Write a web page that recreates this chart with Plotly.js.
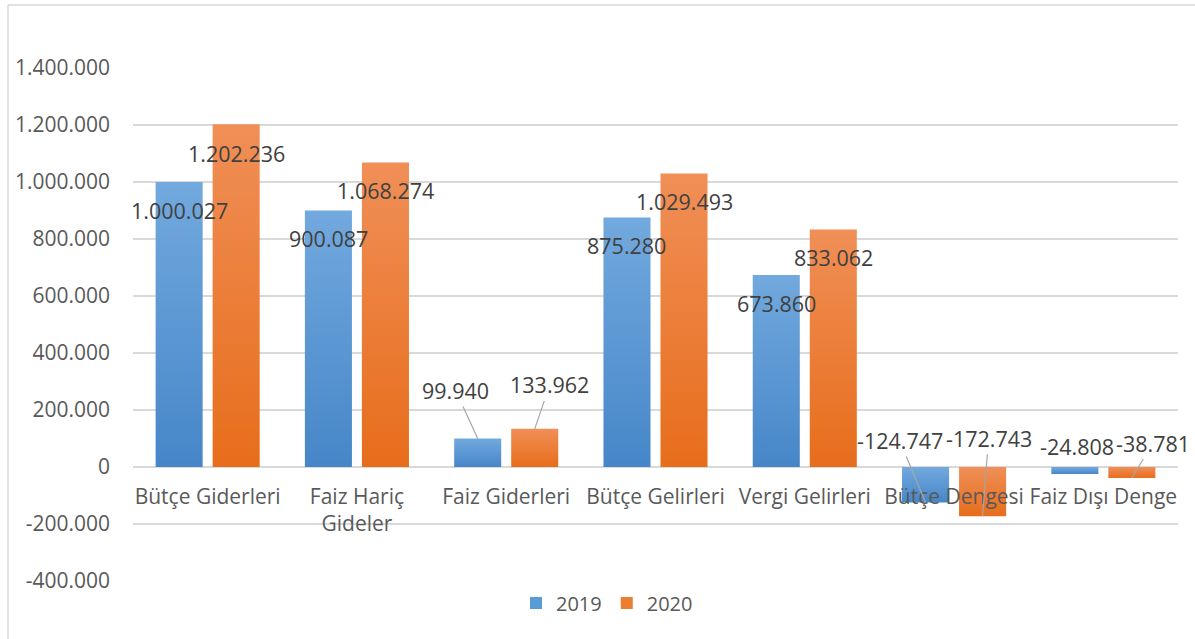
<!DOCTYPE html>
<html>
<head>
<meta charset="utf-8">
<script src="https://cdn.plot.ly/plotly-3.0.1.min.js"></script>
<style>
  html, body { margin: 0; padding: 0; background: #ffffff; }
  #chart { width: 1195px; height: 639px; }
</style>
</head>
<body>
<div id="chart"></div>
<script>
// ---------- data ----------
const categories = ['Bütçe Giderleri', 'Faiz Hariç Gideler', 'Faiz Giderleri', 'Bütçe Gelirleri', 'Vergi Gelirleri', 'Bütçe Dengesi', 'Faiz Dışı Denge'];
const categoryLabels = ['Bütçe Giderleri', 'Faiz Hariç<br>Gideler', 'Faiz Giderleri', 'Bütçe Gelirleri', 'Vergi Gelirleri', 'Bütçe Dengesi', 'Faiz Dışı Denge'];
const seriesNames = ['2019', '2020'];
const values2019 = [1000027, 900087, 99940, 875280, 673860, -124747, -24808];
const values2020 = [1202236, 1068274, 133962, 1029493, 833062, -172743, -38781];
const yTickVals = [-400000, -200000, 0, 200000, 400000, 600000, 800000, 1000000, 1200000, 1400000];

// ---------- styling ----------
const W = 1195, H = 639;
const M = { l: 133, r: 17, t: 68, b: 58 };
const plotW = W - M.l - M.r, plotH = H - M.t - M.b;
const yRange = [-400000, 1400000];
const BARGAP = 0.236, BARGROUPGAP = 0.175;
const FONT = '"Open Sans", "Noto Sans", sans-serif';
const colors = ['#5b9bd5', '#ed7d31'];
const gradients = [['#72a9de', '#4686c8'], ['#f08f57', '#e76d1b']];

// label placement per series / category (pixel offsets, styling only)
const labelPlacement = [
  [{ in: -29 }, { in: -28 }, { ax: -22, ay: -48 }, { in: -28 }, { in: -29 }, { ax: -26, ay: -62 }, { shift: 28, xs: 2 }],
  [{ in: -29 }, { in: -28 }, { ax: 15, ay: -44 }, { in: -28 }, { in: -28 }, { ax: 6, ay: -78 }, { ax: 21, ay: -35 }]
];

function fmt(v) {
  const s = Math.abs(Math.round(v)).toString().replace(/\B(?=(\d{3})+(?!\d))/g, '.');
  return (v < 0 ? '-' : '') + s;
}
const px2paperX = px => (px - M.l) / plotW;
const px2paperY = py => (H - M.b - py) / plotH;

const seriesValues = [values2019, values2020];
const traces = seriesValues.map((vals, i) => ({
  type: 'bar',
  name: seriesNames[i],
  x: categories,
  y: vals,
  marker: { color: colors[i] },
  hoverinfo: 'x+y+name'
}));

// data labels as annotations anchored to bar values
const slot = (1 - BARGAP) / 2;
const annotations = [];
seriesValues.forEach((vals, s) => {
  const off = (s - 0.5) * slot;
  vals.forEach((v, k) => {
    const p = labelPlacement[s][k];
    const a = {
      xref: 'x', yref: 'y', x: k + off, y: v,
      text: fmt(v),
      font: { family: FONT, size: 21.5, color: '#404040' }
    };
    if (p.in !== undefined) {
      Object.assign(a, { showarrow: false, yanchor: 'middle', xanchor: 'center', yshift: p.in });
    } else if (p.shift !== undefined) {
      Object.assign(a, { showarrow: false, yanchor: 'middle', xanchor: 'center', yshift: p.shift, xshift: p.xs || 0 });
    } else {
      Object.assign(a, { showarrow: true, ax: p.ax, ay: p.ay, arrowhead: 0, arrowwidth: 1.2, arrowcolor: '#a6a6a6', standoff: 0, startstandoff: 0 });
    }
    annotations.push(a);
  });
});

const frameColor = '#d9d9d9';
const shapes = [
  { type: 'line', xref: 'paper', yref: 'paper', x0: px2paperX(8), x1: px2paperX(8), y0: px2paperY(5), y1: px2paperY(H + 5), line: { color: frameColor, width: 1.5 } },
  { type: 'line', xref: 'paper', yref: 'paper', x0: px2paperX(8), x1: px2paperX(W + 5), y0: px2paperY(5), y1: px2paperY(5), line: { color: frameColor, width: 1.5 } }
];

const layout = {
  width: W, height: H,
  margin: M,
  paper_bgcolor: '#ffffff',
  plot_bgcolor: '#ffffff',
  font: { family: FONT, color: '#595959' },
  barmode: 'group',
  bargap: BARGAP,
  bargroupgap: BARGROUPGAP,
  showlegend: true,
  legend: {
    orientation: 'h',
    x: px2paperX(516), xanchor: 'left',
    y: px2paperY(603), yanchor: 'middle',
    font: { family: FONT, size: 20, color: '#595959' },
    itemwidth: 30,
    traceorder: 'normal'
  },
  xaxis: {
    type: 'category',
    range: [-0.5, categories.length - 0.5],
    autorange: false,
    tickvals: categories,
    ticktext: categoryLabels,
    anchor: 'free',
    position: (0 - yRange[0]) / (yRange[1] - yRange[0]),
    showgrid: false,
    showline: false,
    zeroline: false,
    ticks: '',
    ticklabelstandoff: 15,
    tickfont: { family: FONT, size: 21, color: '#595959' },
    fixedrange: true
  },
  yaxis: {
    range: yRange,
    autorange: false,
    tickvals: yTickVals,
    ticktext: yTickVals.map(fmt),
    showgrid: true,
    gridcolor: '#d9d9d9',
    gridwidth: 1.5,
    zeroline: true,
    zerolinecolor: '#d9d9d9',
    zerolinewidth: 1.5,
    showline: false,
    ticks: '',
    ticklabelstandoff: 22,
    tickfont: { family: FONT, size: 21, color: '#595959' },
    fixedrange: true
  },
  annotations: annotations,
  shapes: shapes
};

const gd = document.getElementById('chart');
Plotly.newPlot(gd, traces, layout, { displayModeBar: false, staticPlot: true }).then(() => {
  // apply vertical gradient fills to the library-drawn bars
  const svgNS = 'http://www.w3.org/2000/svg';
  const defs = gd.querySelector('svg.main-svg defs');
  gradients.forEach((g, i) => {
    const lg = document.createElementNS(svgNS, 'linearGradient');
    lg.setAttribute('id', 'barGrad' + i);
    lg.setAttribute('x1', '0'); lg.setAttribute('y1', '0');
    lg.setAttribute('x2', '0'); lg.setAttribute('y2', '1');
    [[0, g[0]], [1, g[1]]].forEach(([o, c]) => {
      const st = document.createElementNS(svgNS, 'stop');
      st.setAttribute('offset', o);
      st.setAttribute('stop-color', c);
      lg.appendChild(st);
    });
    defs.appendChild(lg);
  });
  gd.querySelectorAll('.barlayer .trace').forEach((t, i) => {
    t.querySelectorAll('.point path').forEach(p => { p.style.fill = 'url(#barGrad' + i + ')'; });
  });
});
</script>
</body>
</html>
